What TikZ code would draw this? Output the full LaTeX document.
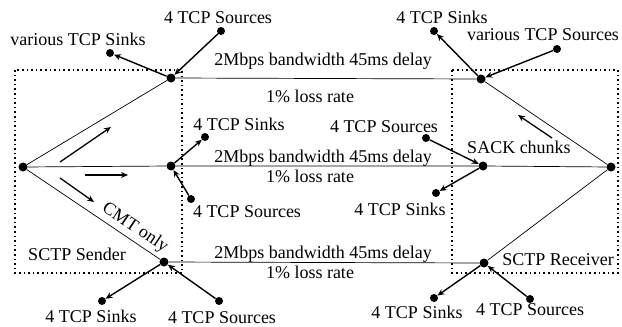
\documentclass[tikz,border=0pt]{standalone}
\usepackage{fontspec}
\newfontfamily\timesfont{Liberation Serif}
\usetikzlibrary{arrows, arrows.meta}

\begin{document}
\begin{tikzpicture}[x=1pt, y=-1pt, font=\timesfont\fontsize{18}{20}\selectfont]

\tikzstyle{endhost} = [circle, fill=black, inner sep=0pt, minimum size=9pt]
\tikzstyle{router} = [circle, fill=black, inner sep=0pt, minimum size=9pt]
\tikzstyle{tcp} = [circle, fill=black, inner sep=0pt, minimum size=8pt]
\tikzstyle{txt} = [inner sep=0pt, anchor=base]
\tikzstyle{endbox} = [line width=1.6pt, dash pattern=on 1.6pt off 3pt]

\tikzstyle{link} = [line width=0.7pt]
\tikzstyle{arrow} = [line width=1.4pt,->,>={Stealth[length=7pt,width=6pt]}]
\tikzstyle{flow} = [line width=1.3pt,->,>={Stealth[length=7pt,width=6pt]}]

\useasboundingbox (0,0) rectangle (622,327);

% sender and receiver boxes
\draw [endbox] (15,70) rectangle (182,273);
\draw [endbox] (452,70) rectangle (618,273);

\node (snd) [endhost] at (23,167) {};
\node (rcv) [endhost] at (611,167) {};
\node (l1) [router] at (171,78) {};
\node (l2) [router] at (171,166) {};
\node (l3) [router] at (164,262) {};
\node (r1) [router] at (481,79) {};
\node (r2) [router] at (483,166) {};
\node (r3) [router] at (484,263) {};

% cross traffic
\node (src1) [tcp] at (221,31) {};
\node (snk1) [tcp] at (110,53) {};
\node (snk2) [tcp] at (205,137) {};
\node (src2) [tcp] at (191,199) {};
\node (snk3) [tcp] at (102,301) {};
\node (src3) [tcp] at (219,301) {};
\node (snk4) [tcp] at (434,31) {};
\node (src4) [tcp] at (557,49) {};
\node (src5) [tcp] at (426,138) {};
\node (snk5) [tcp] at (436,193) {};
\node (snk6) [tcp] at (434,298) {};
\node (src6) [tcp] at (530,299) {};

\node (src1 txt) [txt] at (218,23) {4 TCP Sources};
\node (snk1 txt) [txt] at (78,45) {various TCP Sinks};
\node (snk2 txt) [txt] at (239,130) {4 TCP Sinks};
\node (src2 txt) [txt] at (247,217) {4 TCP Sources};
\node (snk3 txt) [txt] at (91,322) {4 TCP Sinks};
\node (src3 txt) [txt] at (222,323) {4 TCP Sources};
\node (snk4 txt) [txt] at (442,23) {4 TCP Sinks};
\node (src4 txt) [txt] at (543,40) {various TCP Sources};
\node (src5 txt) [txt] at (384,132) {4 TCP Sources};
\node (snk5 txt) [txt] at (400,215) {4 TCP Sinks};
\node (snk6 txt) [txt] at (417,318) {4 TCP Sinks};
\node (src6 txt) [txt] at (530,315) {4 TCP Sources};

% path labels
\node (bw1) [txt] at (323,65) {2Mbps bandwidth 45ms delay};
\node (loss1) [txt] at (310,102) {1\% loss rate};
\node (bw2) [txt] at (323,162) {2Mbps bandwidth 45ms delay};
\node (loss2) [txt] at (310,182) {1\% loss rate};
\node (bw3) [txt] at (323,258) {2Mbps bandwidth 45ms delay};
\node (loss3) [txt] at (310,278) {1\% loss rate};

\node (sack) [txt] at (519,153) {SACK chunks};
\node (sender) [txt] at (77,260) {SCTP Sender};
\node (receiver) [txt] at (558,265) {SCTP Receiver};
\node (cmt) [rotate=-34, inner sep=0pt] at (135,228) {CMT only};

\coordinate (f1 tail) at (60,162);
\coordinate (f1 head) at (111,127);
\coordinate (f2 tail) at (85,175);
\coordinate (f2 head) at (128,175);
\coordinate (f3 tail) at (60,178);
\coordinate (f3 head) at (94,202);
\coordinate (ack tail) at (552,138);
\coordinate (ack head) at (518,115);

\draw [link] (snd) -- (l1) -- (r1) -- (rcv);
\draw [link] (snd) -- (l2) -- (r2) -- (rcv);
\draw [link] (snd) -- (l3) -- (r3) -- (rcv);

\draw [arrow] (src1) -- (l1);
\draw [arrow] (l1) -- (snk1);
\draw [arrow] (l2) -- (snk2);
\draw [arrow] (src2) -- (l2);
\draw [arrow] (l3) -- (snk3);
\draw [arrow] (src3) -- (l3);
\draw [arrow] (r1) -- (snk4);
\draw [arrow] (src4) -- (r1);
\draw [arrow] (src5) -- (r2);
\draw [arrow] (r2) -- (snk5);
\draw [arrow] (r3) -- (snk6);
\draw [arrow] (src6) -- (r3);

\draw [flow] (f1 tail) -- (f1 head);
\draw [flow] (f2 tail) -- (f2 head);
\draw [flow] (f3 tail) -- (f3 head);
\draw [flow] (ack tail) -- (ack head);

\end{tikzpicture}
\end{document}
